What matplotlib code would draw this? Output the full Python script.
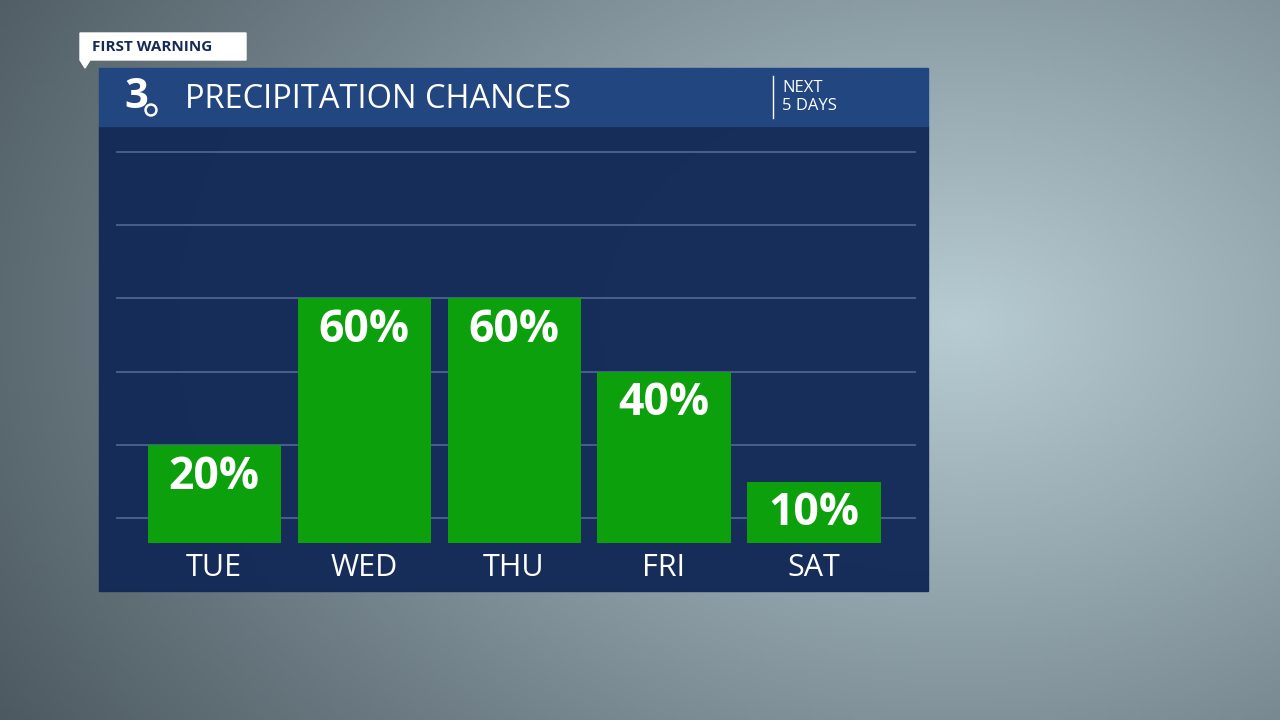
import numpy as np
import matplotlib.pyplot as plt
from matplotlib.patches import Rectangle, Polygon, Circle

days = ["TUE", "WED", "THU", "FRI", "SAT"]
chances = [20, 60, 60, 40, 10]
grid_levels = [0, 20, 40, 60, 80, 100]

plt.rcParams['font.family'] = ['Open Sans', 'DejaVu Sans']

W, H = 1280, 720
fig = plt.figure(figsize=(12.8, 7.2), dpi=100)

# background: rainy window, soft grey-teal gradient
bg = fig.add_axes([0, 0, 1, 1])
yy, xx = np.mgrid[0:1:200j, 0:1:360j]
r = np.sqrt((xx - 0.75) ** 2 + ((yy - 0.45) * 0.8) ** 2)
v = np.clip(1 - r * 1.1, 0, 1)
img = np.zeros((200, 360, 3))
dark = np.array([0.28, 0.33, 0.36])
light = np.array([0.72, 0.80, 0.83])
for c in range(3):
    img[..., c] = dark[c] + (light[c] - dark[c]) * v
bg.imshow(img, extent=[0, W, H, 0], aspect='auto')
bg.set_xlim(0, W)
bg.set_ylim(H, 0)
bg.axis('off')

# panel + header
bg.add_patch(Rectangle((99, 126), 829, 465, color='#142b58', alpha=0.98))
bg.add_patch(Rectangle((99, 68), 829, 58, color='#22467f'))
bg.plot([773, 773], [76, 118], color='white', lw=1)
bg.text(185, 99, "PRECIPITATION CHANCES", color='white', fontsize=23.5,
        va='center', ha='left')
bg.text(782, 97, "NEXT\n5 DAYS", color='white', fontsize=12, va='center',
        ha='left', linespacing=1.1)
bg.text(136, 97, "3", color='white', fontsize=30, fontweight='bold',
        va='center', ha='center')
bg.add_patch(Circle((151, 110), 6, color='white'))
bg.add_patch(Circle((151, 110), 3.5, color='#22467f'))

# "FIRST WARNING" tag
bg.add_patch(Polygon([[80, 33], [246, 33], [246, 60], [90, 60], [85, 68],
                      [80, 60]], closed=True, color='white'))
bg.text(92, 47, "FIRST WARNING", color='#152a55', fontsize=11,
        fontweight='bold', va='center', ha='left')

# chart axes (pixel-aligned to panel)
ax = fig.add_axes([99 / W, 1 - 591 / H, 829 / W, 465 / H])
ax.set_facecolor('none')
ax.set_xlim(-0.767, 4.76)
ax.set_ylim(-19.9, 107.1)
ax.axis('off')
for g in grid_levels:
    ax.plot([-0.65, 4.67], [g, g], color='#4d6390', lw=1.3, zorder=1)

x = np.arange(len(days))
base = -6.8
bars = ax.bar(x, [c - base for c in chances], bottom=base, width=0.887,
              color='#0ca00c', zorder=2)
for xi, c, d in zip(x, chances, days):
    ax.text(xi, c - 8.8, f"{c}%", color='white', fontsize=32,
            fontweight='bold', ha='center', va='center', zorder=3)
    ax.text(xi, -13.5, d, color='white', fontsize=22, ha='center',
            va='center')

fig.savefig("out.png", dpi=100)
